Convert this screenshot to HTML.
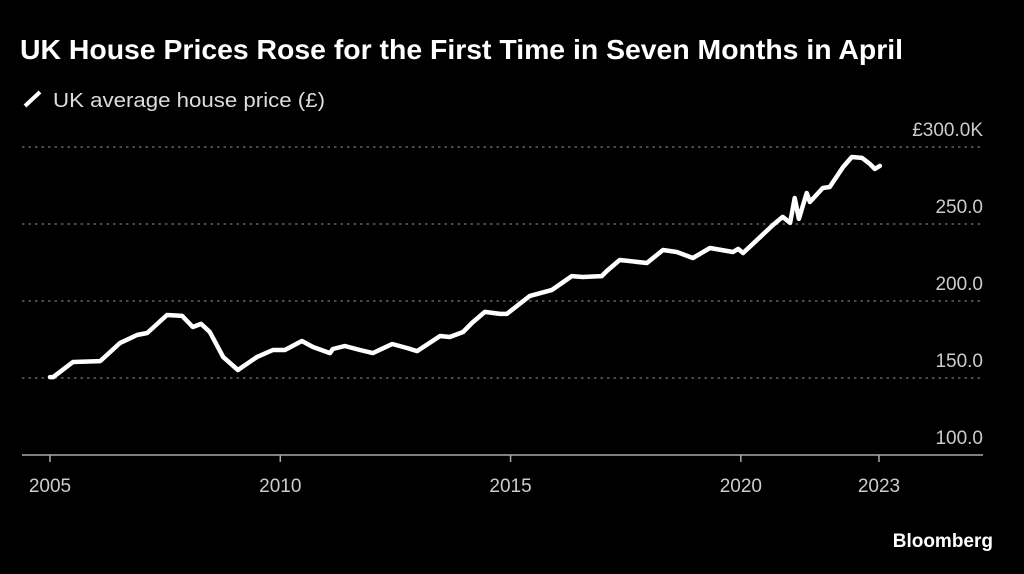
<!DOCTYPE html>
<html><head><meta charset="utf-8"><style>
html,body{margin:0;padding:0;background:#000;width:1024px;height:574px;overflow:hidden}
svg{display:block}
text{font-family:"Liberation Sans",sans-serif}
</style></head><body>
<svg id="chart" width="1024" height="574">
<text x="20" y="59" fill="#fff" font-size="28" font-weight="bold" textLength="883" lengthAdjust="spacingAndGlyphs">UK House Prices Rose for the First Time in Seven Months in April</text>
<g>
<line x1="25" y1="106" x2="40" y2="92" stroke="#fff" stroke-width="4" stroke-linecap="butt"/>
<text x="53" y="107" fill="#ddd" font-size="20" textLength="272" lengthAdjust="spacingAndGlyphs">UK average house price (£)</text>
</g>
<g id="grid"></g><g id="xaxis"></g>
<path id="line" fill="none" stroke="#fff" stroke-width="4.5" stroke-linejoin="round" stroke-linecap="round"/>
<text x="993" y="547" text-anchor="end" fill="#fff" font-size="19" font-weight="bold">Bloomberg</text>
</svg>
<script>
const yTicks=[100,150,200,250,300];
const yTickLabels=["100.0","150.0","200.0","250.0","£300.0K"];
const xTicks=[2005,2010,2015,2020,2023];
const dates=[2005.0,2005.07,2005.5,2006.09,2006.52,2006.89,2007.11,2007.54,2007.87,2008.1,2008.28,2008.47,2008.76,2009.08,2009.49,2009.84,2010.1,2010.47,2010.71,2011.08,2011.14,2011.4,2011.73,2012.01,2012.43,2012.75,2012.97,2013.47,2013.68,2013.97,2014.16,2014.44,2014.77,2014.92,2015.42,2015.9,2016.33,2016.57,2016.98,2017.09,2017.37,2017.96,2018.31,2018.61,2018.96,2019.33,2019.83,2019.94,2020.05,2020.7,2020.91,2021.07,2021.17,2021.26,2021.43,2021.5,2021.78,2021.93,2022.22,2022.41,2022.63,2022.8,2022.91,2023.02];
const prices=[150.6,150.6,160.4,161.0,172.7,177.9,179.2,190.9,190.3,183.1,185.1,179.9,163.6,155.2,163.6,168.2,168.2,174.0,170.1,166.2,168.8,170.8,168.2,166.2,172.1,169.5,167.5,177.3,176.6,179.9,185.7,192.9,191.6,191.6,203.3,207.2,216.2,215.6,216.2,219.5,226.6,224.7,233.1,231.8,227.9,234.4,231.8,233.8,231.2,249.4,254.6,250.7,266.9,253.3,270.1,264.3,273.4,274.0,287.0,293.5,292.9,289.0,285.7,287.7];
const NS="http://www.w3.org/2000/svg";
const x=v=>50+(v-2005)*(879-50)/18;
const y=v=>455-(v-100)*(455-147)/200;
const grid=document.getElementById('grid'),xa=document.getElementById('xaxis');
yTicks.forEach((t,i)=>{
  if(i>0){const l=document.createElementNS(NS,'line');
  l.setAttribute('x1',22);l.setAttribute('x2',983);l.setAttribute('y1',y(t));l.setAttribute('y2',y(t));
  l.setAttribute('stroke','#777');l.setAttribute('stroke-width',1.3);l.setAttribute('stroke-dasharray','2.5,4');
  
  
  grid.appendChild(l);}
  const tx=document.createElementNS(NS,'text');
  tx.setAttribute('x',983);tx.setAttribute('y',y(t)-11);tx.setAttribute('text-anchor','end');
  tx.setAttribute('fill','#ccc');tx.setAttribute('font-size',19);tx.textContent=yTickLabels[i];
  
  
  grid.appendChild(tx);
});
const base=document.createElementNS(NS,'line');
base.setAttribute('x1',22);base.setAttribute('x2',983);base.setAttribute('y1',455);base.setAttribute('y2',455);
base.setAttribute('stroke','#aaa');base.setAttribute('stroke-width',1.5);


xa.appendChild(base);
xTicks.forEach(t=>{
  const l=document.createElementNS(NS,'line');
  l.setAttribute('x1',x(t));l.setAttribute('x2',x(t));l.setAttribute('y1',455);l.setAttribute('y2',462);
  l.setAttribute('stroke','#aaa');l.setAttribute('stroke-width',1.5);
  
  
  xa.appendChild(l);
  const tx=document.createElementNS(NS,'text');
  tx.setAttribute('x',x(t));tx.setAttribute('y',492);tx.setAttribute('text-anchor','middle');
  tx.setAttribute('fill','#ccc');tx.setAttribute('font-size',19);tx.textContent=t;
  
  
  xa.appendChild(tx);
});
document.getElementById('line').setAttribute('d',dates.map((d,i)=>(i?'L':'M')+x(d).toFixed(1)+','+y(prices[i]).toFixed(1)).join(''));
</script>
</body></html>
